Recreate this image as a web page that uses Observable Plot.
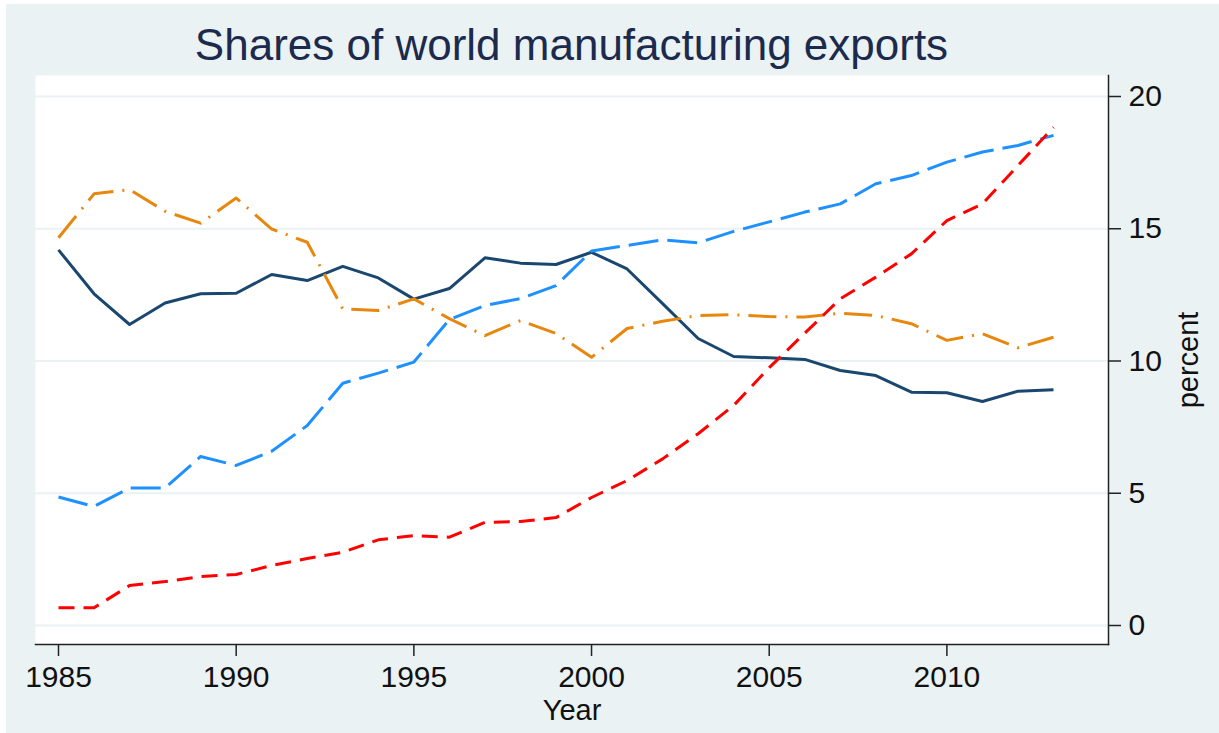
<!DOCTYPE html>
<html>
<head>
<meta charset="utf-8">
<script src="https://cdn.jsdelivr.net/npm/d3@7"></script>
<script src="https://cdn.jsdelivr.net/npm/@observablehq/plot@0.6"></script>
<style>
  html, body { margin: 0; padding: 0; background: #ffffff; }
  #page { position: relative; width: 1219px; height: 733px; overflow: hidden; }
  #bg { position: absolute; left: 6px; top: 4px; right: 0; bottom: 0; background: #eaf2f3; }
  #title { position: absolute; left: 35px; width: 1073px; top: 23px; text-align: center;
           font-family: "Liberation Sans", Arial, Helvetica, sans-serif; font-size: 44px; line-height: 44px;
           color: #1c2b4d; white-space: nowrap; }
  #chart { position: absolute; left: 0; top: 0; }
</style>
</head>
<body>
<div id="page">
  <div id="bg"></div>
  <div id="chart"></div>
  <div id="title">Shares of world manufacturing exports</div>
</div>
<script>
const years = [1985,1986,1987,1988,1989,1990,1991,1992,1993,1994,1995,1996,1997,1998,1999,
               2000,2001,2002,2003,2004,2005,2006,2007,2008,2009,2010,2011,2012,2013];
const navySeries = [14.20,12.54,11.38,12.19,12.54,12.56,13.27,13.04,13.58,13.14,12.34,12.74,13.90,13.70,13.65,
                    14.11,13.48,12.17,10.85,10.17,10.12,10.06,9.64,9.45,8.82,8.80,8.47,8.86,8.91];
const blueSeries = [4.86,4.50,5.20,5.20,6.39,6.05,6.59,7.56,9.16,9.54,9.96,11.57,12.10,12.36,12.85,
                    14.16,14.37,14.58,14.47,14.90,15.26,15.63,15.94,16.70,17.01,17.52,17.90,18.15,18.53];
const redSeries = [0.67,0.67,1.51,1.66,1.85,1.93,2.27,2.53,2.77,3.24,3.40,3.34,3.90,3.93,4.08,
                   4.84,5.48,6.30,7.25,8.32,9.75,11.05,12.35,13.17,14.05,15.31,15.94,17.39,18.84];
const orangeSeries = [14.66,16.32,16.48,15.66,15.21,16.16,14.99,14.49,11.97,11.91,12.35,11.60,10.96,11.53,11.04,
                      10.14,11.23,11.50,11.72,11.75,11.68,11.66,11.81,11.72,11.41,10.78,11.03,10.50,10.90];
const xTicks = [1985,1990,1995,2000,2005,2010];
const yTicks = [0,5,10,15,20];

const seriesNames = ["Series 1","Series 2","Series 3","Series 4"];
const seriesValues = [navySeries, orangeSeries, blueSeries, redSeries];
const styles = [
  {stroke: "#1a476f", dash: null},
  {stroke: "#e8870e", dash: "28,9,2,9"},
  {stroke: "#1e90ff", dash: "30,9"},
  {stroke: "#ff0000", dash: "16,9"}
];

const tables = seriesValues.map((vals, i) => years.map((yr, j) => ({year: yr, value: vals[j], series: seriesNames[i]})));

const font = "'Liberation Sans', Arial, Helvetica, sans-serif";
const axisColor = "#222222";

const chart = Plot.plot({
  width: 1219,
  height: 733,
  marginLeft: 35,
  marginRight: 111,
  marginTop: 75,
  marginBottom: 89,
  x: {type: "linear", domain: [1985, 2013], range: [58, 1053]},
  y: {type: "linear", domain: [0, 20], range: [625, 96]},
  style: {background: "transparent", fontFamily: font, fontSize: "30px", color: "#111111", overflow: "visible"},
  marks: [
    Plot.frame({fill: "white", stroke: null}),
    Plot.ruleY(yTicks, {y: d => d, stroke: "#eaf2f3", strokeWidth: 2}),
    ...tables.map((t, i) => Plot.line(t, {
      x: "year", y: "value",
      stroke: styles[i].stroke,
      strokeWidth: 3,
      strokeDasharray: styles[i].dash || undefined,
      strokeLinejoin: "round",
      strokeLinecap: "butt"
    })),
    Plot.frame({anchor: "right", stroke: axisColor, strokeWidth: 1.5}),
    Plot.frame({anchor: "bottom", stroke: axisColor, strokeWidth: 1.5}),
    Plot.axisY(yTicks, {anchor: "right", tickSize: 12, tickPadding: 8, label: null, stroke: axisColor, strokeWidth: 1.5, fontSize: 30, fill: "#111111"}),
    Plot.axisX(xTicks, {anchor: "bottom", tickSize: 12, tickPadding: 9, label: null, tickFormat: d => String(d), stroke: axisColor, strokeWidth: 1.5, fontSize: 30, fill: "#111111"}),
    Plot.text(["percent"], {text: d => d, frameAnchor: "right", dx: 80, rotate: -90, fontSize: 29, lineAnchor: "middle", textAnchor: "middle", fill: "#111111"}),
    Plot.text(["Year"], {text: d => d, frameAnchor: "bottom", dy: 66, fontSize: 29, lineAnchor: "middle", textAnchor: "middle", fill: "#111111"})
  ]
});
document.getElementById("chart").appendChild(chart);
</script>
</body>
</html>
